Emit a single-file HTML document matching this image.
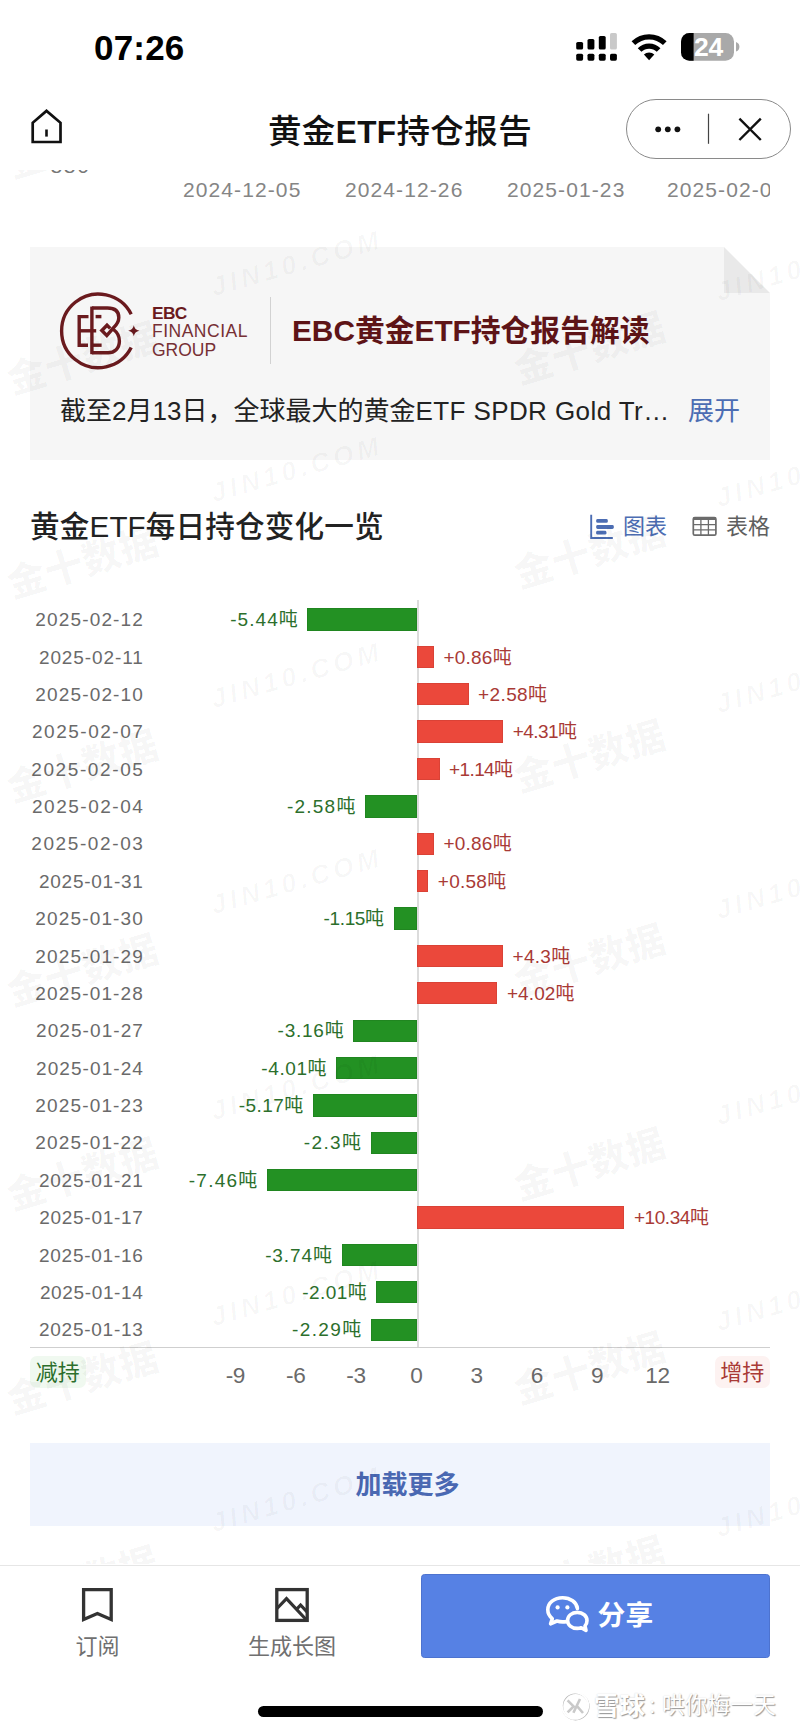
<!DOCTYPE html>
<html lang="zh-CN">
<head>
<meta charset="utf-8">
<meta name="viewport" content="width=800">
<title>黄金ETF持仓报告</title>
<style>
*{box-sizing:border-box;margin:0;padding:0}
html,body{width:800px;height:1731px;background:#fff;overflow:hidden}
body{font-family:"Liberation Sans","Noto Sans CJK SC",sans-serif;color:#222;-webkit-font-smoothing:antialiased}
#app{position:relative;width:800px;height:1731px;overflow:hidden;background:#fff}
#app>*{position:absolute}
.t{white-space:nowrap}
/* status bar */
.time{left:94px;top:27.5px;width:96px;height:40px;line-height:40px;font-size:35px;font-weight:700;color:#000;letter-spacing:.2px}
/* nav */
.title{left:0;top:109.5px;width:800px;height:44px;line-height:44px;text-align:center;font-size:33.5px;font-weight:500;color:#111;letter-spacing:.4px}
.title b{font-weight:700;font-size:31.5px}
.capsule{left:626px;top:99px;width:165px;height:60px;border:1px solid #8a8a8a;border-radius:30px;background:#fff}
/* top axis labels */
.xl{top:176px;height:28px;line-height:28px;font-size:21px;color:#858585;letter-spacing:1.1px}
.yl{left:50.6px;top:151.8px;height:28px;line-height:28px;font-size:21px;color:#777;letter-spacing:1.6px}
.navmask{left:0;top:0;width:800px;height:169.8px;background:#fff}
.clipr{left:0;top:170px;width:770px;height:40px;overflow:hidden}
.clipr>*{position:absolute}
/* card */
.card{left:30px;top:247px;width:740px;height:213px;background:#f6f6f6}
.fold{left:724px;top:247px;width:46px;height:46px;background:#fff}
.ebcname{left:152px;height:22px;line-height:22px;font-size:17.5px;color:#763035;letter-spacing:.5px}
.vdiv{left:269.5px;top:297px;width:1.5px;height:67px;background:#d2d2d2}
.ctitle{left:292px;top:308.5px;height:44px;line-height:44px;font-size:29.8px;font-weight:700;color:#5e1417}
.cdesc{left:60px;top:391px;height:40px;line-height:40px;font-size:26px;color:#222}
.more{left:688px;top:391px;height:40px;line-height:40px;font-size:26px;color:#4c6db3}
/* section */
.stitle{left:30px;top:505px;height:44px;line-height:44px;font-size:29.6px;font-weight:500;color:#222;letter-spacing:.15px}
.tab{top:512px;height:30px;line-height:30px;font-size:22px}
/* chart */
.dl{left:0;width:143.3px;height:30px;line-height:30px;text-align:right;font-size:19px;color:#6a6a6a;letter-spacing:1.08px}
.bar{height:22.4px;box-shadow:inset 0 0 0 1px rgba(0,0,0,.07)}
.bar.g{background:#239123}
.bar.r{background:#eb483b}
.vl{height:30px;line-height:30px;font-size:19px;letter-spacing:.35px;white-space:nowrap}
.vg{color:#2c6f2c;letter-spacing:.75px}
.vr{color:#a93a36;letter-spacing:.1px}
.zero{left:417.3px;top:600px;width:1.5px;height:748px;background:#dcdcdc}
.axis{left:30px;top:1346.6px;width:740px;height:1.6px;background:#cfcfcf}
.tk{top:1360.6px;width:60px;height:30px;line-height:30px;text-align:center;font-size:22.6px;color:#6a6a6a;letter-spacing:-.3px}
.badge{top:1356px;height:32px;line-height:34px;width:55.5px;text-align:center;font-size:22px;border-radius:7px}
/* load more */
.load{left:30px;top:1443px;width:740px;height:83px;line-height:85.2px;background:#f0f4fd;text-align:center;padding-left:15px;font-size:26px;font-weight:700;color:#4a68b2}
/* bottom */
.bline{left:0;top:1564.5px;width:800px;height:1.5px;background:#e6e6e6}
.blabel{top:1631.8px;height:30px;line-height:30px;width:140px;text-align:center;font-size:22px;color:#707070}
.share{left:420.5px;top:1574px;width:349.5px;height:83.5px;background:#5681e4;border-radius:3.5px;border:1px solid #4d73cf}
.sharet{left:597.6px;top:1596.3px;height:40px;line-height:40px;font-size:27.8px;font-weight:700;color:#fff}
.homebar{left:258px;top:1706px;width:285px;height:10.5px;border-radius:6px;background:#000}
.wm2{top:1689.2px;height:34px;line-height:34px;color:#fff;text-shadow:1px 1px 1px rgba(0,0,0,.38),0 0 1.5px rgba(0,0,0,.18)}
/* background watermarks */
.wm{color:rgba(0,0,0,.03);font-weight:700;white-space:nowrap;height:50px;line-height:50px;width:260px;text-align:center;transform:rotate(-18deg);pointer-events:none}
.wj{font-size:26.5px;letter-spacing:4.2px;font-style:italic;transform:rotate(-16deg)}
.wmclip{left:0;top:169.8px;width:800px;height:1394.7px;overflow:hidden;pointer-events:none}
.wmclip>*{position:absolute}
.wk{font-size:38.5px;letter-spacing:.5px;font-weight:900;transform:rotate(-17deg)}
</style>
</head>
<body>
<div id="app">

<!-- line chart remnants behind nav -->
<div class="yl t">880</div>
<div class="navmask"></div>
<div class="clipr">
  <div class="xl t" style="left:183px;top:6px">2024-12-05</div>
  <div class="xl t" style="left:345px;top:6px">2024-12-26</div>
  <div class="xl t" style="left:507px;top:6px">2025-01-23</div>
  <div class="xl t" style="left:667px;top:6px">2025-02-06</div>
</div>

<!-- status bar -->
<div class="time t">07:26</div>
<svg style="left:574px;top:30px" width="170" height="34" viewBox="574 30 170 34">
  <g fill="#000">
    <rect x="576.2" y="42" width="6.9" height="7.6" rx="1.6"/>
    <rect x="587.5" y="39" width="6.9" height="10.6" rx="1.6"/>
    <rect x="598.8" y="36" width="6.9" height="13.6" rx="1.6"/>
    <rect x="610" y="33" width="6.9" height="16.6" rx="1.6" fill="#c9c9c9"/>
    <rect x="576.2" y="53.7" width="6.9" height="7" rx="1.6"/>
    <rect x="587.5" y="53.7" width="6.9" height="7" rx="1.6"/>
    <rect x="598.8" y="53.7" width="6.9" height="7" rx="1.6"/>
    <rect x="610" y="53.7" width="6.9" height="7" rx="1.6"/>
  </g>
  <g fill="none" stroke="#000" stroke-width="5.2">
    <path d="M633.4 43.2 A22.5 22.5 0 0 1 664.8 43.2"/>
    <path d="M639.6 50 A13.4 13.4 0 0 1 658.6 50"/>
  </g>
  <path d="M649.1 60.3 L643.9 54.6 A7.4 7.4 0 0 1 654.3 54.6 Z" fill="#000"/>
  <rect x="681" y="33" width="53" height="27.7" rx="8.5" fill="#a9a9a9"/>
  <path d="M689.5 33 H693.6 V60.7 H689.5 A8.5 8.5 0 0 1 681 52.2 V41.5 A8.5 8.5 0 0 1 689.5 33Z" fill="#000"/>
  <path d="M736 42 C738.8 43 739.4 45 739.4 46.8 C739.4 48.6 738.8 50.6 736 51.6Z" fill="#a9a9a9"/>
  <text x="708.4" y="56.3" font-family="Liberation Sans, sans-serif" font-weight="700" font-size="26.5" fill="#fff" text-anchor="middle" letter-spacing="-0.3">24</text>
</svg>

<!-- nav -->
<svg style="left:28px;top:106px" width="40" height="42" viewBox="28 106 40 42">
  <path d="M32.7 142 V122.8 L46.5 110.9 L60.5 122.8 V142 Z" fill="none" stroke="#111" stroke-width="2.7" stroke-linejoin="miter"/>
  <path d="M46.5 129.5 V136.6" stroke="#111" stroke-width="2.6"/>
</svg>
<div class="title t">黄金<b>ETF</b>持仓报告</div>
<div class="capsule"></div>
<svg style="left:640px;top:105px" width="140" height="50" viewBox="640 105 140 50">
  <circle cx="658.2" cy="129.3" r="2.9" fill="#111"/>
  <circle cx="667.8" cy="129.3" r="2.9" fill="#111"/>
  <circle cx="677.4" cy="129.3" r="2.9" fill="#111"/>
  <path d="M708.5 113.7 V143.8" stroke="#444" stroke-width="1.2"/>
  <path d="M739.4 118.6 L760.8 140 M760.8 118.6 L739.4 140" stroke="#111" stroke-width="2.4" fill="none"/>
</svg>

<!-- card -->
<div class="card"></div>
<div class="fold"></div>
<svg style="left:724px;top:247px" width="46" height="46" viewBox="0 0 46 46"><path d="M0 0 L46 46 H0Z" fill="#e9e9e9"/></svg>
<svg style="left:50px;top:280px" width="100" height="100" viewBox="0 0 100 100">
  <g fill="none" stroke="#6a1a1e" stroke-width="3.4">
    <path d="M81.2 34.2 A36.8 36.8 0 1 0 81.2 67.6"/>
    <path d="M41.9 26.6 V74.2"/>
    <path d="M41.9 28 H57.5 C65.5 28 68.8 32 68.8 37.5 C68.8 42.5 66.5 45 63.5 47.8 L56.8 55.5 L51.8 50.5 L57 45.2 L60.2 48.4"/>
    <path d="M63.5 49.5 C67.5 52.5 69.4 56.5 69.4 61 C69.4 68.5 64.5 72.8 58 72.8 H41.9"/>
    <path d="M38.5 36.6 H29.2 V65.2 H38"/>
    <path d="M29.2 50.8 H46.2"/>
    <path d="M45.6 36.6 H51.4"/>
    <path d="M41.9 65.2 H51.6"/>
  </g>
  <path d="M83.8 45.2 Q84.6 49.8 89.4 50.7 Q84.6 51.6 83.8 56.2 Q83 51.6 78.2 50.7 Q83 49.8 83.8 45.2Z" fill="#6a1a1e"/>
</svg>
<div class="ebcname t" style="top:301.5px;font-weight:700;color:#6a1a1e;letter-spacing:-.6px;font-size:17.3px">EBC</div>
<div class="ebcname t" style="top:320px">FINANCIAL</div>
<div class="ebcname t" style="top:338.5px;letter-spacing:0">GROUP</div>
<div class="vdiv"></div>
<div class="ctitle t">EBC黄金ETF持仓报告解读</div>
<div class="cdesc t">截至2月13日，全球最大的黄金<span style="letter-spacing:.42px">ETF SPDR Gold Tr…</span></div>
<div class="more t">展开</div>

<!-- section header -->
<div class="stitle t">黄金ETF每日持仓变化一览</div>
<svg style="left:588px;top:512px" width="30" height="30" viewBox="588 512 30 30">
  <path d="M591.2 514.7 V538 H612.8" fill="none" stroke="#4c6db3" stroke-width="1.9"/>
  <rect x="596.2" y="519" width="11.6" height="3.8" rx="1.4" fill="#4c6db3"/>
  <rect x="596.2" y="525.1" width="17.6" height="3.9" rx="1.4" fill="#4c6db3"/>
  <rect x="596.2" y="530.8" width="10.2" height="3.8" rx="1.4" fill="#4c6db3"/>
</svg>
<div class="tab t" style="left:623px;color:#4c6db3">图表</div>
<svg style="left:690px;top:514px" width="30" height="26" viewBox="690 514 30 26">
  <rect x="693.3" y="517.6" width="22.6" height="17.6" rx="1.5" fill="none" stroke="#6b6b6b" stroke-width="1.7"/>
  <path d="M693.3 518.7 H715.9" stroke="#6b6b6b" stroke-width="2.6"/>
  <path d="M693.3 524.6 H715.9 M693.3 529.9 H715.9 M700.9 519 V535.2 M708.4 519 V535.2" stroke="#6b6b6b" stroke-width="1.3" fill="none"/>
</svg>
<div class="tab t" style="left:726px;color:#5f5f5f">表格</div>

<!-- bar chart -->
<div class="zero"></div>
<div class="dl" style="top:605.1px;letter-spacing:1.17px;width:144.1px">2025-02-12</div>
<div class="bar g" style="left:307.4px;top:608.3px;width:109.3px"></div>
<div class="vl vg" style="right:501.1px;top:605.1px;letter-spacing:1.07px">-5.44吨</div>
<div class="dl" style="top:642.5px;letter-spacing:0.91px;width:143.8px">2025-02-11</div>
<div class="bar r" style="left:416.7px;top:645.7px;width:17.3px"></div>
<div class="vl vr" style="left:443.4px;top:642.5px;letter-spacing:0.24px">+0.86吨</div>
<div class="dl" style="top:679.9px;letter-spacing:1.17px;width:144.1px">2025-02-10</div>
<div class="bar r" style="left:416.7px;top:683.1px;width:51.9px"></div>
<div class="vl vr" style="left:478.0px;top:679.9px;letter-spacing:0.40px">+2.58吨</div>
<div class="dl" style="top:717.2px;letter-spacing:1.52px;width:144.4px">2025-02-07</div>
<div class="bar r" style="left:416.7px;top:720.4px;width:86.6px"></div>
<div class="vl vr" style="left:512.7px;top:717.2px;letter-spacing:-0.54px">+4.31吨</div>
<div class="dl" style="top:754.6px;letter-spacing:1.61px;width:144.5px">2025-02-05</div>
<div class="bar r" style="left:416.7px;top:757.8px;width:22.9px"></div>
<div class="vl vr" style="left:449.0px;top:754.6px;letter-spacing:-0.60px">+1.14吨</div>
<div class="dl" style="top:792.0px;letter-spacing:1.52px;width:144.4px">2025-02-04</div>
<div class="bar g" style="left:364.8px;top:795.2px;width:51.9px"></div>
<div class="vl vg" style="right:443.4px;top:792.0px;letter-spacing:1.23px">-2.58吨</div>
<div class="dl" style="top:829.4px;letter-spacing:1.61px;width:144.5px">2025-02-03</div>
<div class="bar r" style="left:416.7px;top:832.6px;width:17.3px"></div>
<div class="vl vr" style="left:443.4px;top:829.4px;letter-spacing:0.24px">+0.86吨</div>
<div class="dl" style="top:866.8px;letter-spacing:0.74px;width:143.6px">2025-01-31</div>
<div class="bar r" style="left:416.7px;top:870.0px;width:11.7px"></div>
<div class="vl vr" style="left:437.8px;top:866.8px;letter-spacing:0.26px">+0.58吨</div>
<div class="dl" style="top:904.1px;letter-spacing:1.17px;width:144.1px">2025-01-30</div>
<div class="bar g" style="left:393.6px;top:907.3px;width:23.1px"></div>
<div class="vl vg" style="right:416.3px;top:904.1px;letter-spacing:-0.37px">-1.15吨</div>
<div class="dl" style="top:941.5px;letter-spacing:1.17px;width:144.1px">2025-01-29</div>
<div class="bar r" style="left:416.7px;top:944.7px;width:86.4px"></div>
<div class="vl vr" style="left:512.5px;top:941.5px;letter-spacing:0.30px">+4.3吨</div>
<div class="dl" style="top:978.9px;letter-spacing:1.17px;width:144.1px">2025-01-28</div>
<div class="bar r" style="left:416.7px;top:982.1px;width:80.8px"></div>
<div class="vl vr" style="left:506.9px;top:978.9px;letter-spacing:0.10px">+4.02吨</div>
<div class="dl" style="top:1016.3px;letter-spacing:1.08px;width:144.0px">2025-01-27</div>
<div class="bar g" style="left:353.2px;top:1019.5px;width:63.5px"></div>
<div class="vl vg" style="right:455.6px;top:1016.3px;letter-spacing:0.75px">-3.16吨</div>
<div class="dl" style="top:1053.7px;letter-spacing:1.08px;width:144.0px">2025-01-24</div>
<div class="bar g" style="left:336.1px;top:1056.9px;width:80.6px"></div>
<div class="vl vg" style="right:472.8px;top:1053.7px;letter-spacing:0.59px">-4.01吨</div>
<div class="dl" style="top:1091.0px;letter-spacing:1.17px;width:144.1px">2025-01-23</div>
<div class="bar g" style="left:312.8px;top:1094.2px;width:103.9px"></div>
<div class="vl vg" style="right:496.3px;top:1091.0px;letter-spacing:0.43px">-5.17吨</div>
<div class="dl" style="top:1128.4px;letter-spacing:1.17px;width:144.1px">2025-01-22</div>
<div class="bar g" style="left:370.5px;top:1131.6px;width:46.2px"></div>
<div class="vl vg" style="right:437.7px;top:1128.4px;letter-spacing:1.35px">-2.3吨</div>
<div class="dl" style="top:1165.8px;letter-spacing:0.74px;width:143.6px">2025-01-21</div>
<div class="bar g" style="left:266.8px;top:1169.0px;width:149.9px"></div>
<div class="vl vg" style="right:541.5px;top:1165.8px;letter-spacing:1.23px">-7.46吨</div>
<div class="dl" style="top:1203.2px;letter-spacing:0.72px;width:143.6px">2025-01-17</div>
<div class="bar r" style="left:416.7px;top:1206.4px;width:207.8px"></div>
<div class="vl vr" style="left:633.9px;top:1203.2px;letter-spacing:-0.43px">+10.34吨</div>
<div class="dl" style="top:1240.6px;letter-spacing:0.74px;width:143.6px">2025-01-16</div>
<div class="bar g" style="left:341.5px;top:1243.8px;width:75.2px"></div>
<div class="vl vg" style="right:467.1px;top:1240.6px;letter-spacing:0.91px">-3.74吨</div>
<div class="dl" style="top:1277.9px;letter-spacing:0.64px;width:143.5px">2025-01-14</div>
<div class="bar g" style="left:376.3px;top:1281.1px;width:40.4px"></div>
<div class="vl vg" style="right:432.8px;top:1277.9px;letter-spacing:0.43px">-2.01吨</div>
<div class="dl" style="top:1315.3px;letter-spacing:0.74px;width:143.6px">2025-01-13</div>
<div class="bar g" style="left:370.7px;top:1318.5px;width:46.0px"></div>
<div class="vl vg" style="right:437.4px;top:1315.3px;letter-spacing:1.39px">-2.29吨</div>
<div class="axis"></div>
<div class="tk" style="left:205.4px">-9</div>
<div class="tk" style="left:265.7px">-6</div>
<div class="tk" style="left:326.0px">-3</div>
<div class="tk" style="left:386.3px">0</div>
<div class="tk" style="left:446.6px">3</div>
<div class="tk" style="left:506.9px">6</div>
<div class="tk" style="left:567.2px">9</div>
<div class="tk" style="left:627.5px">12</div>
<div class="badge t" style="left:30px;background:#f0f9f0;color:#2c6f2c">减持</div>
<div class="badge t" style="left:714.5px;background:#fdf2f1;color:#a93a36">增持</div>

<!-- load more -->
<div class="load t">加载更多</div>

<!-- bottom bar -->
<div class="bline"></div>
<svg style="left:78px;top:1584px" width="40" height="42" viewBox="78 1584 40 42">
  <path d="M83.6 1589.6 H111.2 V1619.6 L97.4 1613.6 L83.6 1619.6 Z" fill="none" stroke="#333" stroke-width="3.3"/>
</svg>
<div class="blabel t" style="left:27.4px">订阅</div>
<svg style="left:272px;top:1584px" width="40" height="42" viewBox="272 1584 40 42">
  <rect x="276.8" y="1589.6" width="30.4" height="30.8" fill="none" stroke="#333" stroke-width="3.3"/>
  <path d="M277 1608.5 L286.5 1598.6 L306.5 1620 M296.5 1609.4 L300.6 1605 L307 1611.8" fill="none" stroke="#333" stroke-width="3.2"/>
</svg>
<div class="blabel t" style="left:222px">生成长图</div>
<div class="share"></div>
<svg style="left:544px;top:1594px" width="48" height="42" viewBox="544 1594 48 42">
  <path d="M566.4 1621.6 C565 1621.8 563.9 1621.9 562.6 1621.9 C560.6 1621.9 558.7 1621.6 556.9 1621 L550.6 1623.8 L552.3 1618.6 C549.5 1616.4 547.8 1613.2 547.8 1609.8 C547.8 1603 554.2 1597.7 562.6 1597.7 C570.4 1597.7 576.6 1602.2 577.4 1608.4" fill="none" stroke="#fff" stroke-width="3.6" stroke-linejoin="round" stroke-linecap="round"/>
  <circle cx="557.6" cy="1607.4" r="2.1" fill="#fff"/>
  <circle cx="567.4" cy="1607.4" r="2.1" fill="#fff"/>
  <path d="M577.2 1612.4 C571.6 1612.4 567.6 1616 567.6 1620.4 C567.6 1624.8 571.6 1628.4 577.2 1628.4 C578.6 1628.4 580 1628.2 581.2 1627.7 L586 1630.4 L585 1625.9 C586.3 1624.5 587 1622.5 587 1620.4 C587 1616 582.8 1612.4 577.2 1612.4Z" fill="none" stroke="#fff" stroke-width="3.6" stroke-linejoin="round"/>
</svg>
<div class="sharet t">分享</div>
<div class="homebar"></div>

<div class="wmclip">
<div class="wm wk" style="left:-47px;top:-52.3px">金十数据</div>
<div class="wm wk" style="left:460px;top:-62.8px">金十数据</div>
<div class="wm wj" style="left:167px;top:68.2px">JIN10.COM</div>
<div class="wm wj" style="left:672px;top:73.2px">JIN10.COM</div>
<div class="wm wk" style="left:-47px;top:164.7px">金十数据</div>
<div class="wm wk" style="left:460px;top:154.2px">金十数据</div>
<div class="wm wj" style="left:167px;top:274.2px">JIN10.COM</div>
<div class="wm wj" style="left:672px;top:279.2px">JIN10.COM</div>
<div class="wm wk" style="left:-47px;top:368.7px">金十数据</div>
<div class="wm wk" style="left:460px;top:358.2px">金十数据</div>
<div class="wm wj" style="left:167px;top:480.2px">JIN10.COM</div>
<div class="wm wj" style="left:672px;top:485.2px">JIN10.COM</div>
<div class="wm wk" style="left:-47px;top:572.7px">金十数据</div>
<div class="wm wk" style="left:460px;top:562.2px">金十数据</div>
<div class="wm wj" style="left:167px;top:686.2px">JIN10.COM</div>
<div class="wm wj" style="left:672px;top:691.2px">JIN10.COM</div>
<div class="wm wk" style="left:-47px;top:776.7px">金十数据</div>
<div class="wm wk" style="left:460px;top:766.2px">金十数据</div>
<div class="wm wj" style="left:167px;top:892.2px">JIN10.COM</div>
<div class="wm wj" style="left:672px;top:897.2px">JIN10.COM</div>
<div class="wm wk" style="left:-47px;top:980.7px">金十数据</div>
<div class="wm wk" style="left:460px;top:970.2px">金十数据</div>
<div class="wm wj" style="left:167px;top:1098.2px">JIN10.COM</div>
<div class="wm wj" style="left:672px;top:1103.2px">JIN10.COM</div>
<div class="wm wk" style="left:-47px;top:1184.7px">金十数据</div>
<div class="wm wk" style="left:460px;top:1174.2px">金十数据</div>
<div class="wm wj" style="left:167px;top:1304.2px">JIN10.COM</div>
<div class="wm wj" style="left:672px;top:1309.2px">JIN10.COM</div>
<div class="wm wk" style="left:-47px;top:1388.7px">金十数据</div>
<div class="wm wk" style="left:460px;top:1378.2px">金十数据</div>
</div>
<!-- source watermark -->
<svg style="left:558px;top:1688px" width="34" height="34" viewBox="558 1688 34 34">
  <circle cx="575.6" cy="1706.4" r="13.2" fill="none" stroke="#b9b9b9" stroke-width="1.6"/>
  <circle cx="575" cy="1705.6" r="13.2" fill="none" stroke="#fff" stroke-width="2"/>
  <path d="M567.6 1700.4 L573.6 1706.4 L567.6 1712.4 M573.4 1712.8 L580 1699 M577 1706.2 L583 1713" fill="none" stroke="#c9c9c9" stroke-width="2.6"/>
</svg>
<div class="wm2 t" style="left:594px;font-size:25.5px;font-weight:700">雪球</div>
<div class="wm2 t" style="left:649px;font-size:22.6px;letter-spacing:.2px">: 哄你梅一天</div>

</div>
</body>
</html>
